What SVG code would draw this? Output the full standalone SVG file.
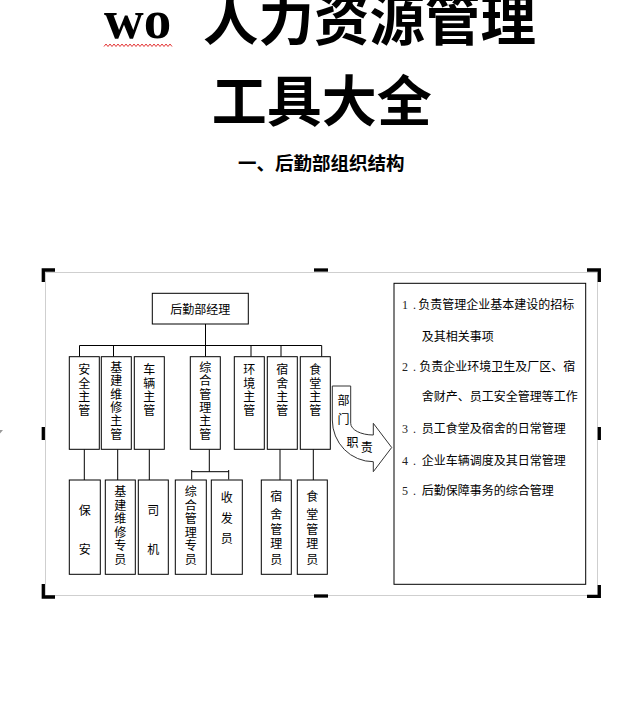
<svg xmlns="http://www.w3.org/2000/svg" width="634" height="710" viewBox="0 0 634 710">
<style>
.t{font-family:"Noto Sans CJK SC","Liberation Sans",sans-serif;font-size:12px;fill:#000}
.c{text-anchor:middle}
.n{font-family:"Liberation Serif","Noto Sans CJK SC",serif;font-size:12px;fill:#222}
.box{fill:#fff;stroke:#000;stroke-width:1}
.ln{fill:none;stroke:#000;stroke-width:1}
.mk{fill:none;stroke:#000;stroke-width:3.3}
.ttl{font-family:"Noto Sans CJK SC","Liberation Serif",serif;font-weight:700;fill:#000}
</style>
<rect width="634" height="710" fill="#fff"/>
<g id="title">
<text x="104" y="38" style="font-family:'Liberation Serif',serif;font-weight:700;font-size:55px">wo</text>
<path d="M104,46.5 l2,-2.5 l2,2.5 l2,-2.5 l2,2.5 l2,-2.5 l2,2.5 l2,-2.5 l2,2.5 l2,-2.5 l2,2.5 l2,-2.5 l2,2.5 l2,-2.5 l2,2.5 l2,-2.5 l2,2.5 l2,-2.5 l2,2.5 l2,-2.5 l2,2.5 l2,-2.5 l2,2.5 l2,-2.5 l2,2.5 l2,-2.5 l2,2.5 l2,-2.5 l2,2.5 l2,-2.5 l2,2.5 l2,-2.5 l2,2.5 l2,-2.5 l2,2.5" fill="none" stroke="#e02020" stroke-width="0.9"/>
<text class="ttl" x="203" y="39.5" font-size="55.5">人力资源管理</text>
<text class="ttl" x="321.7" y="121" font-size="55" text-anchor="middle">工具大全</text>
<text class="ttl" x="238" y="170.4" font-size="18.5">一、后勤部组织结构</text>
</g>
<g id="frame">
<rect x="45.5" y="272.5" width="552" height="323" fill="none" stroke="#cfcfcf" stroke-width="1"/>
<path class="mk" d="M43.3,282 V270 H55"/>
<path class="mk" d="M587,270 H599.3 V282"/>
<path class="mk" d="M43.3,584 V597 H55"/>
<path class="mk" d="M587,596.3 H599.3 V585"/>
<path class="mk" d="M314,270 H328"/>
<path class="mk" d="M314,596 H328"/>
<path class="mk" d="M43.3,427 V440"/>
<path class="mk" d="M599.3,427 V440"/>
<polygon points="0,430 3,430 0,433.5" fill="#999"/>
</g>
<g id="connectors">
<path class="ln" d="M205.5,324 V356.7"/>
<path class="ln" d="M79.5,345.5 H321.7"/>
<path class="ln" d="M79.5,345.5 V356.7 M113.5,345.5 V356.7 M251,345.5 V356.7 M281,345.5 V356.7 M321.7,345.5 V356.7"/>
<path class="ln" d="M84.3,449.3 V480 M117.7,449.3 V480 M149.3,449.3 V480 M280,449.3 V480 M313.3,449.3 V480"/>
<path class="ln" d="M209.3,449.3 V471.7 M191.7,471.7 H228.7 M191.7,470 V479.5 M228.7,470 V479.5"/>
</g>
<g id="manager">
<rect class="box" x="152.3" y="293.3" width="96" height="30.7"/>
<text class="t c" x="200.3" y="313.8">后勤部经理</text>
</g>
<g id="sup-anquan">
<rect class="box" x="69.3" y="356.7" width="30" height="92.6"/>
<text class="t c"><tspan x="84.3" y="374">安</tspan><tspan x="84.3" y="387.5">全</tspan><tspan x="84.3" y="401">主</tspan><tspan x="84.3" y="414.5">管</tspan></text>
</g>
<g id="sup-jijian">
<rect class="box" x="101.3" y="356.7" width="30" height="92.6"/>
<text class="t c"><tspan x="116.3" y="372">基</tspan><tspan x="116.3" y="385.3">建</tspan><tspan x="116.3" y="398.7">维</tspan><tspan x="116.3" y="412">修</tspan><tspan x="116.3" y="425.4">主</tspan><tspan x="116.3" y="438.8">管</tspan></text>
</g>
<g id="sup-cheliang">
<rect class="box" x="134.3" y="356.7" width="30" height="92.6"/>
<text class="t c"><tspan x="149.3" y="374">车</tspan><tspan x="149.3" y="387.5">辆</tspan><tspan x="149.3" y="401">主</tspan><tspan x="149.3" y="414.5">管</tspan></text>
</g>
<g id="sup-zonghe">
<rect class="box" x="190.3" y="356.7" width="30" height="92.6"/>
<text class="t c"><tspan x="205.3" y="372">综</tspan><tspan x="205.3" y="385.3">合</tspan><tspan x="205.3" y="398.7">管</tspan><tspan x="205.3" y="412">理</tspan><tspan x="205.3" y="425.4">主</tspan><tspan x="205.3" y="438.8">管</tspan></text>
</g>
<g id="sup-huanjing">
<rect class="box" x="234.3" y="356.7" width="30" height="92.6"/>
<text class="t c"><tspan x="249.3" y="374">环</tspan><tspan x="249.3" y="387.5">境</tspan><tspan x="249.3" y="401">主</tspan><tspan x="249.3" y="414.5">管</tspan></text>
</g>
<g id="sup-sushe">
<rect class="box" x="267.3" y="356.7" width="30" height="92.6"/>
<text class="t c"><tspan x="282.3" y="374">宿</tspan><tspan x="282.3" y="387.5">舍</tspan><tspan x="282.3" y="401">主</tspan><tspan x="282.3" y="414.5">管</tspan></text>
</g>
<g id="sup-shitang">
<rect class="box" x="300.3" y="356.7" width="30" height="92.6"/>
<text class="t c"><tspan x="315.3" y="374">食</tspan><tspan x="315.3" y="387.5">堂</tspan><tspan x="315.3" y="401">主</tspan><tspan x="315.3" y="414.5">管</tspan></text>
</g>
<g id="st-baoan">
<rect class="box" x="69.3" y="480" width="31" height="94.3"/>
<text class="t c"><tspan x="84.8" y="514.5">保</tspan><tspan x="84.8" y="553.5">安</tspan></text>
</g>
<g id="st-jijian">
<rect class="box" x="105.3" y="480" width="30" height="94.3"/>
<text class="t c"><tspan x="120.3" y="496">基</tspan><tspan x="120.3" y="509.6">建</tspan><tspan x="120.3" y="523.2">维</tspan><tspan x="120.3" y="536.8">修</tspan><tspan x="120.3" y="550.4">专</tspan><tspan x="120.3" y="564">员</tspan></text>
</g>
<g id="st-siji">
<rect class="box" x="138.3" y="480" width="30" height="94.3"/>
<text class="t c"><tspan x="153.3" y="514.5">司</tspan><tspan x="153.3" y="553.5">机</tspan></text>
</g>
<g id="st-zonghe">
<rect class="box" x="175.3" y="480" width="31" height="94.3"/>
<text class="t c"><tspan x="190.8" y="496">综</tspan><tspan x="190.8" y="509.6">合</tspan><tspan x="190.8" y="523.2">管</tspan><tspan x="190.8" y="536.8">理</tspan><tspan x="190.8" y="550.4">专</tspan><tspan x="190.8" y="564">员</tspan></text>
</g>
<g id="st-shoufa">
<rect class="box" x="211.3" y="480" width="31" height="94.3"/>
<text class="t c"><tspan x="226.8" y="501.8">收</tspan><tspan x="226.8" y="522.8">发</tspan><tspan x="226.8" y="543.2">员</tspan></text>
</g>
<g id="st-sushe">
<rect class="box" x="261.3" y="480" width="30" height="94.3"/>
<text class="t c"><tspan x="276.3" y="501.2">宿</tspan><tspan x="276.3" y="518.5">舍</tspan><tspan x="276.3" y="533.5">管</tspan><tspan x="276.3" y="547.8">理</tspan><tspan x="276.3" y="563.5">员</tspan></text>
</g>
<g id="st-shitang">
<rect class="box" x="297.3" y="480" width="30" height="94.3"/>
<text class="t c"><tspan x="312.3" y="501.2">食</tspan><tspan x="312.3" y="518.5">堂</tspan><tspan x="312.3" y="533.5">管</tspan><tspan x="312.3" y="547.8">理</tspan><tspan x="312.3" y="563.5">员</tspan></text>
</g>
<g id="duty-arrow">
<path d="M332.3,386 H350.7 V423.3 A22.6,11.7 0 0 0 373.3,435 V423.3 L391.7,447.5 L373.3,471.7 V461.7 A41,41.7 0 0 1 332.3,420 Z" fill="#fff" stroke="#333" stroke-width="1"/>
<text class="t c"><tspan x="343.5" y="405.3">部</tspan><tspan x="343.5" y="423.5">门</tspan><tspan x="352.5" y="447">职</tspan><tspan x="366.7" y="452">责</tspan></text>
</g>
<g id="duties">
<rect class="box" x="394" y="283.3" width="191.7" height="301"/>
<text class="n" x="402" y="309">1<tspan x="413">.</tspan></text>
<text class="t" x="418.3" y="309">负责管理企业基本建设的招标</text>
<text class="t" x="421.7" y="340.5">及其相关事项</text>
<text class="n" x="402" y="371.2">2<tspan x="413">.</tspan></text>
<text class="t" x="419.3" y="371.2">负责企业环境卫生及厂区、宿</text>
<text class="t" x="421.7" y="401.2">舍财产、员工安全管理等工作</text>
<text class="n" x="402" y="432.8">3<tspan x="413">.</tspan></text>
<text class="t" x="421.7" y="432.8">员工食堂及宿舍的日常管理</text>
<text class="n" x="402" y="464.5">4<tspan x="413">.</tspan></text>
<text class="t" x="421.7" y="464.5">企业车辆调度及其日常管理</text>
<text class="n" x="402" y="495.2">5<tspan x="413">.</tspan></text>
<text class="t" x="421.7" y="495.2">后勤保障事务的综合管理</text>
</g>
</svg>
